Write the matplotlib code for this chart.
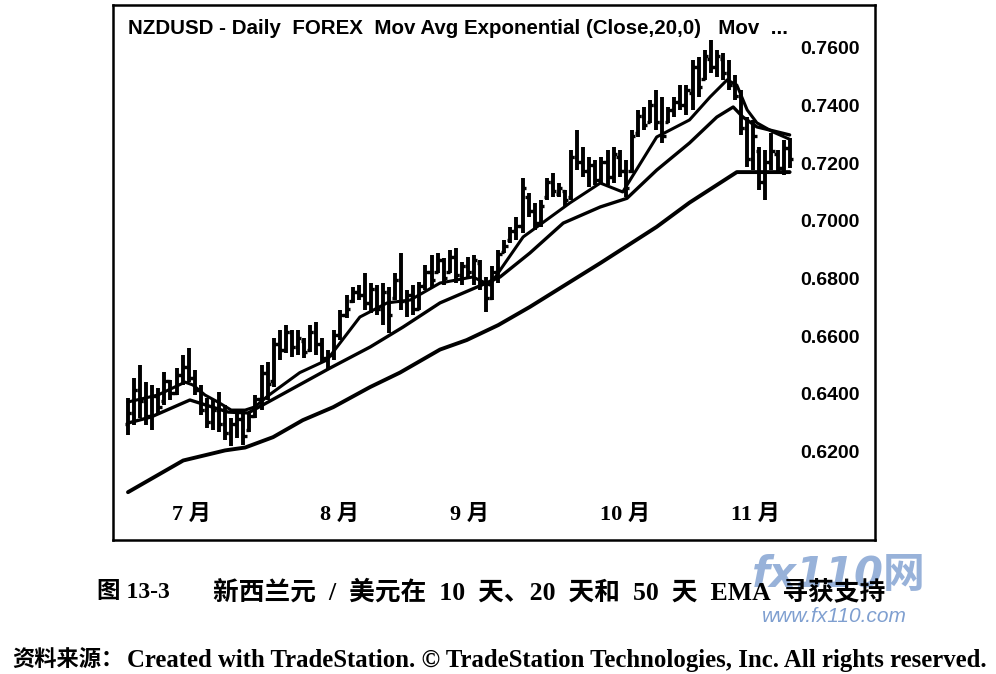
"""
NZDUSD daily bars with the 10, 20 and 50 day EMAs (TradeStation style scan).
Writes out.png.
"""
import matplotlib
matplotlib.use("Agg")
import matplotlib.pyplot as plt
from matplotlib.transforms import blended_transform_factory

# ---------------------------------------------------------------------------
# Data, one entry per daily bar
# ---------------------------------------------------------------------------
highs = [
    .6392, .6461, .6506, .6447, .6436, .6426, .6482, .6454, .6496, .6541,
    .6565, .6489, .6437, .6392, .6385, .6413, .6367, .6322, .6343, .6350,
    .6343, .6402, .6506, .6517, .6600, .6628, .6645, .6628, .6628, .6600,
    .6645, .6656, .6600, .6558, .6628, .6697, .6749, .6777, .6784, .6826,
    .6791, .6784, .6791, .6777, .6826, .6895, .6767, .6784, .6795, .6854,
    .6888, .6895, .6878, .6906, .6913, .6864, .6881, .6888, .6871, .6812,
    .6850, .6906, .6940, .6985, .7020, .7156, .7103, .7069, .7079, .7156,
    .7173, .7138, .7114, .7253, .7322, .7263, .7228, .7218, .7228, .7253,
    .7263, .7253, .7218, .7322, .7392, .7402, .7426, .7461, .7437, .7402,
    .7437, .7479, .7479, .7565, .7576, .7600, .7635, .7600, .7590, .7565,
    .7513, .7461, .7367, .7357, .7263, .7253, .7312, .7253, .7288, .7295,
]
lows = [
    .6264, .6298, .6322, .6298, .6281, .6333, .6367, .6385, .6402, .6437,
    .6447, .6402, .6333, .6288, .6281, .6274, .6246, .6225, .6253, .6228,
    .6274, .6322, .6350, .6385, .6430, .6524, .6548, .6534, .6541, .6531,
    .6552, .6541, .6517, .6489, .6524, .6593, .6670, .6722, .6732, .6697,
    .6687, .6680, .6645, .6617, .6732, .6697, .6673, .6680, .6697, .6767,
    .6777, .6826, .6784, .6826, .6791, .6784, .6812, .6784, .6767, .6690,
    .6732, .6791, .6895, .6930, .6940, .6965, .7020, .6975, .6985, .7079,
    .7090, .7090, .7055, .7079, .7183, .7159, .7124, .7131, .7138, .7131,
    .7138, .7159, .7090, .7173, .7298, .7322, .7347, .7322, .7277, .7347,
    .7367, .7392, .7374, .7392, .7437, .7496, .7520, .7506, .7496, .7461,
    .7426, .7305, .7194, .7183, .7114, .7079, .7183, .7173, .7166, .7190,
]
opens = [
    .6300, .6340, .6420, .6380, .6330, .6400, .6380, .6450, .6410, .6470,
    .6500, .6460, .6420, .6350, .6310, .6350, .6300, .6270, .6300, .6320,
    .6280, .6330, .6390, .6480, .6450, .6580, .6560, .6620, .6570, .6590,
    .6560, .6620, .6580, .6530, .6540, .6610, .6680, .6730, .6760, .6750,
    .6720, .6770, .6700, .6760, .6740, .6800, .6730, .6750, .6700, .6780,
    .6830, .6830, .6870, .6830, .6880, .6820, .6850, .6830, .6860, .6790,
    .6740, .6830, .6900, .6940, .6970, .6990, .7090, .7040, .7000, .7090,
    .7140, .7100, .7110, .7090, .7230, .7210, .7180, .7200, .7150, .7210,
    .7160, .7230, .7180, .7180, .7310, .7370, .7350, .7410, .7350, .7350,
    .7390, .7420, .7410, .7450, .7540, .7500, .7570, .7540, .7570, .7520,
    .7480, .7440, .7330, .7220, .7250, .7140, .7210, .7240, .7190, .7260,
]
closes = [
    .6340, .6420, .6380, .6330, .6400, .6360, .6450, .6410, .6470, .6500,
    .6460, .6420, .6350, .6310, .6350, .6300, .6270, .6300, .6320, .6260,
    .6330, .6390, .6480, .6440, .6580, .6560, .6620, .6570, .6600, .6550,
    .6620, .6580, .6530, .6540, .6610, .6680, .6700, .6760, .6750, .6720,
    .6770, .6700, .6760, .6680, .6800, .6730, .6750, .6700, .6780, .6830,
    .6800, .6870, .6810, .6880, .6820, .6850, .6830, .6870, .6790, .6740,
    .6830, .6890, .6920, .6970, .6990, .7120, .7040, .7000, .7060, .7140,
    .7110, .7120, .7080, .7230, .7210, .7180, .7200, .7150, .7210, .7160,
    .7240, .7180, .7120, .7300, .7370, .7340, .7410, .7350, .7300, .7390,
    .7420, .7410, .7460, .7540, .7470, .7580, .7540, .7580, .7520, .7480,
    .7440, .7330, .7220, .7300, .7140, .7210, .7250, .7190, .7260, .7220,
]

# EMA lines, sampled at bar positions along each curve
ema10_at = [0, 4.9, 9.4, 10.7, 12.7, 14.8, 17, 19.3, 20.9, 23.1, 28.3, 32.8, 38.2,
            42.7, 46.5, 51.4, 56.8, 59.6, 65.1, 72.8, 77.8, 81.5, 87.1, 92.5, 95.9,
            98.7, 100.3, 102, 103.6, 106.3, 109]
ema10 = [.6378, .6402, .6447, .6437, .6402, .6378, .6350, .6350, .6361, .6400, .6480,
         .6524, .6673, .6722, .6732, .6791, .6812, .6784, .6951, .7069, .7138, .7107,
         .7298, .7357, .7437, .7496, .7478, .7392, .7347, .7315, .7290]

ema20_at = [0, 3.8, 10.2, 16.5, 19.8, 23.1, 33.3, 39.9, 45.3, 51.4, 57.5, 61.3, 66.2,
            71.7, 77.8, 82.2, 87.1, 92.5, 97, 99.7, 101.3, 103.6, 109]
ema20 = [.6305, .6326, .6385, .6343, .6340, .6378, .6496, .6569, .6638, .6722, .6777,
         .6812, .6895, .6999, .7055, .7085, .7183, .7277, .7367, .7402, .7367, .7333,
         .7305]

ema50_at = [0, 9.1, 16, 19.3, 23.9, 28.8, 33.8, 39.9, 44.8, 51.4, 55.8, 61, 66.2,
            77.8, 87.1, 92.5, 100.3, 109]
ema50 = [.6065, .6175, .6210, .6220, .6256, .6315, .6360, .6430, .6480, .6560, .6593,
         .6645, .6708, .6860, .6986, .7070, .7176, .7176]

price_ticks = [0.62, 0.64, 0.66, 0.68, 0.70, 0.72, 0.74, 0.76]
month_labels = ["7 月", "8 月", "9 月", "10 月", "11 月"]
month_at = [10.5, 34.8, 56.3, 81.9, 103.3]

TITLE = "NZDUSD - Daily  FOREX  Mov Avg Exponential (Close,20,0)   Mov  ..."
CAPTION_NO = "图 13-3"
CAPTION = "新西兰元  /  美元在  10  天、20  天和  50  天  EMA  寻获支持"
SOURCE_CN = "资料来源："
SOURCE = "Created with TradeStation. © TradeStation Technologies, Inc. All rights reserved."

SANS = ["Liberation Sans", "DejaVu Sans"]
SERIF_CJK = ["Liberation Serif", "Noto Sans CJK SC", "DejaVu Sans"]

# ---------------------------------------------------------------------------
fig = plt.figure(figsize=(9.96, 6.74), dpi=100)
ax = fig.add_axes([113 / 996, 1 - 540 / 674, 762 / 996, 535 / 674])
ax.set_xlim(-2.47, 123.06)
ax.set_ylim(0.5899, 0.7756)
ax.set_xticks([]); ax.set_yticks([])
for s in ax.spines.values():
    s.set_linewidth(1.8)

# OHLC bars
x = list(range(len(highs)))
ax.vlines(x, lows, highs, color="black", linewidth=2.8)
ax.hlines(opens, [i - 0.55 for i in x], x, color="black", linewidth=2.4)
ax.hlines(closes, x, [i + 0.55 for i in x], color="black", linewidth=2.4)

# the three EMAs
ax.plot(ema10_at, ema10, color="black", linewidth=2.2, solid_capstyle="round")
ax.plot(ema20_at, ema20, color="black", linewidth=2.4, solid_capstyle="round")
ax.plot(ema50_at, ema50, color="black", linewidth=2.8, solid_capstyle="round")

# price scale, drawn inside the frame like TradeStation does
ytr = blended_transform_factory(ax.transAxes, ax.transData)
for v in price_ticks:
    ax.text(0.98, v, f"{v:.4f}", transform=ytr, ha="right", va="center",
            fontsize=14, fontweight="bold", family=SANS)

xtr = blended_transform_factory(ax.transData, ax.transAxes)
for pos, lab in zip(month_at, month_labels):
    ax.text(pos, 0.047, lab, transform=xtr, ha="center", va="center",
            fontsize=16, fontweight="bold", family=SERIF_CJK)

ax.text(0.0197, 0.957, TITLE, transform=ax.transAxes, ha="left", va="center",
        fontsize=14.8, fontweight="bold", family=SANS)

# site watermark stamped on the scan (kept underneath the caption)
fig.text(752 / 996, 1 - 575 / 674, "fx110网", ha="left", va="center", fontsize=30,
         fontweight="bold", style="italic", color="#7f9fd0", alpha=0.8,
         family=["DejaVu Sans", "Noto Sans CJK SC"], zorder=1)
fig.text(762 / 996, 1 - 617 / 674, "www.fx110.com", ha="left", va="center",
         fontsize=15, style="italic", color="#7f9fd0", family=SANS, zorder=1)

# caption and source under the chart
fig.text(97 / 996, 1 - 592 / 674, CAPTION_NO, ha="left", va="center",
         fontsize=17, fontweight="bold", family=SERIF_CJK, zorder=3)
fig.text(213 / 996, 1 - 592 / 674, CAPTION, ha="left", va="center",
         fontsize=18.5, fontweight="bold", family=SERIF_CJK, zorder=3)
fig.text(12 / 996, 1 - 660 / 674, SOURCE_CN, ha="left", va="center",
         fontsize=16, fontweight="bold", family=SERIF_CJK)
fig.text(127 / 996, 1 - 660 / 674, SOURCE, ha="left", va="center",
         fontsize=17.8, fontweight="bold", family=SERIF_CJK)

fig.savefig("out.png", dpi=100)
